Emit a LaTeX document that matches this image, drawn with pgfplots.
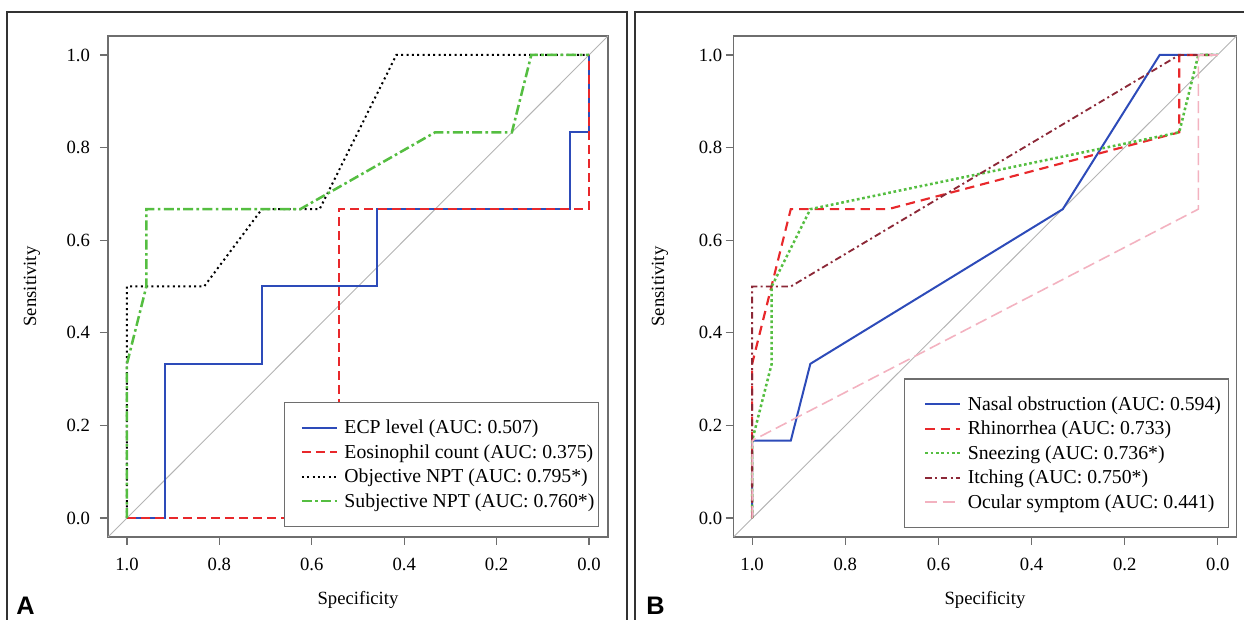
\documentclass[border=0pt]{standalone}
\usepackage{pgfplots}
\pgfplotsset{compat=1.18}
\usepackage{fontspec}
\setmainfont{Liberation Serif}
\newfontfamily\sansb{Liberation Sans}
\definecolor{cblue}{RGB}{45,75,185}
\definecolor{cred}{RGB}{232,40,43}
\definecolor{cgreen}{RGB}{85,190,65}
\definecolor{cmaroon}{RGB}{140,40,55}
\definecolor{cpink}{RGB}{243,178,192}
\definecolor{cdiag}{RGB}{180,180,180}
\definecolor{caxis}{RGB}{110,110,110}
\begin{document}
\begin{tikzpicture}
\path[use as bounding box] (0,0) rectangle (933pt,465pt);
\draw[black!80, line width=0.8pt] (5.25pt,0) -- (5.25pt,456pt) -- (470.25pt,456pt) -- (470.25pt,0);
\draw[black!80, line width=0.8pt] (476.25pt,0) -- (476.25pt,456pt) -- (933pt,456pt);
\node[anchor=base west, inner sep=0pt, font=\sansb\bfseries\fontsize{19}{20}\selectfont] at (12pt,3.75pt) {A};
\node[anchor=base west, inner sep=0pt, font=\sansb\bfseries\fontsize{19}{20}\selectfont] at (484.5pt,3.75pt) {B};
\pgfplotsset{
 rocstyle/.style={
  scale only axis, x dir=reverse,
  ymin=-0.041, ymax=1.041,
  axis line style={draw=caxis, line width=0.9pt},
  every tick/.style={draw=caxis, line width=0.9pt},
  tick align=outside, tick pos=left, major tick length=6pt,
  xtick={0,0.2,0.4,0.6,0.8,1}, xticklabels={0.0,0.2,0.4,0.6,0.8,1.0},
  ytick={0,0.2,0.4,0.6,0.8,1}, yticklabels={0.0,0.2,0.4,0.6,0.8,1.0},
  tick label style={font=\fontsize{14}{16}\selectfont},
  xticklabel style={yshift=-6pt},
  label style={font=\fontsize{14}{16}\selectfont},
  xlabel=Specificity, ylabel=Sensitivity,
  xlabel style={at={(axis description cs:0.5,-0.125)}, anchor=center},
  legend cell align=left,
  legend image code/.code={\path (0pt,0pt); \draw[##1] (11pt,0pt) -- (37pt,0pt);},
  legend style={draw=caxis, line width=0.9pt, fill=white, anchor=south east,
    font=\fontsize{14.8}{17}\selectfont, inner xsep=1pt, inner ysep=11pt,
    row sep=2.6pt, column sep=3pt},
 }
}
% Panel A
\begin{axis}[rocstyle, at={(81pt,62.25pt)}, anchor=south west,
  width=375pt, height=375.75pt, xmin=-0.041, xmax=1.041,
  yticklabel style={xshift=-4pt},
  ylabel style={at={(axis description cs:-0.152,0.5)}, anchor=center},
  legend style={at={(0.982,0.02)}}]
\addplot[cdiag, line width=0.7pt, forget plot] coordinates {(1.041,-0.041) (-0.041,1.041)};
\addplot[cblue, line width=1.5pt] coordinates {(1,0) (0.917,0) (0.917,0.333) (0.708,0.333) (0.708,0.5) (0.458,0.5) (0.458,0.667) (0.042,0.667) (0.042,0.833) (0,0.833) (0,1)};
\addplot[cred, line width=1.5pt, dash pattern=on 6.5pt off 4pt] coordinates {(1,0) (0.542,0) (0.542,0.667) (0,0.667) (0,1)};
\addplot[black, line width=1.5pt, dash pattern=on 1.5pt off 2.5pt] coordinates {(1,0) (1,0.5) (0.833,0.5) (0.708,0.667) (0.583,0.667) (0.417,1) (0,1)};
\addplot[cgreen, line width=1.9pt, dash pattern=on 7.5pt off 2.5pt on 2pt off 2.5pt] coordinates {(1,0) (1,0.333) (0.958,0.5) (0.958,0.667) (0.625,0.667) (0.333,0.833) (0.167,0.833) (0.125,1) (0,1)};
\legend{ECP level (AUC: 0.507), Eosinophil count (AUC: 0.375), Objective NPT (AUC: 0.795*), Subjective NPT (AUC: 0.760*)}
\end{axis}
% Panel B
\begin{axis}[rocstyle, at={(550.125pt,62.25pt)}, anchor=south west,
  width=377.25pt, height=375.75pt, xmin=-0.04, xmax=1.04,
  yticklabel style={xshift=1pt},
  ylabel style={at={(axis description cs:-0.146,0.5)}, anchor=center},
  legend style={at={(0.985,0.018)}, inner xsep=3.5pt}]
\addplot[cdiag, line width=0.7pt, forget plot] coordinates {(1.04,-0.041) (-0.04,1.041)};
\addplot[cblue, line width=1.5pt] coordinates {(1,0) (1,0.167) (0.917,0.167) (0.875,0.333) (0.333,0.667) (0.125,1) (0,1)};
\addplot[cred, line width=1.6pt, dash pattern=on 7pt off 4.5pt] coordinates {(1,0) (1,0.333) (0.917,0.667) (0.708,0.667) (0.083,0.833) (0.083,1) (0,1)};
\addplot[cgreen, line width=1.9pt, dash pattern=on 2pt off 2pt] coordinates {(1,0) (1,0.167) (0.958,0.333) (0.958,0.5) (0.875,0.667) (0.083,0.833) (0.042,1) (0,1)};
\addplot[cmaroon, line width=1.4pt, dash pattern=on 5pt off 2.5pt on 1.5pt off 2.5pt] coordinates {(1,0) (1,0.5) (0.917,0.5) (0.083,1) (0,1)};
\addplot[cpink, line width=1.2pt, dash pattern=on 9pt off 4pt] coordinates {(1,0) (1,0.167) (0.042,0.667) (0.042,1) (0,1)};
\legend{Nasal obstruction (AUC: 0.594), Rhinorrhea (AUC: 0.733), Sneezing (AUC: 0.736*), Itching (AUC: 0.750*), Ocular symptom (AUC: 0.441)}
\end{axis}
\end{tikzpicture}
\end{document}
